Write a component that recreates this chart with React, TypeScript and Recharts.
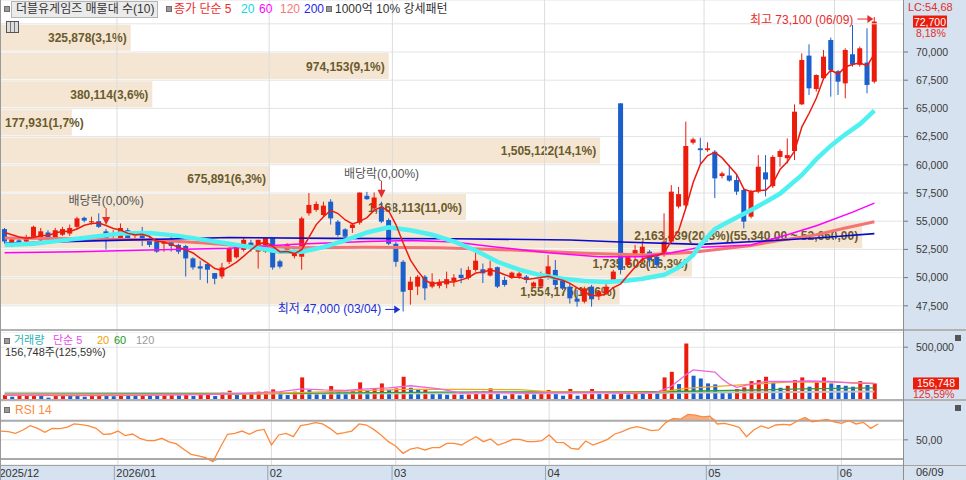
import React from "react";
import {
  ComposedChart,
  Bar,
  Line,
  Area,
  XAxis,
  YAxis,
  CartesianGrid,
  LabelList,
  ReferenceLine,
  ReferenceDot,
} from "recharts";

// trading days shown on the chart
const DATES = [
  "2025/12/08", "2025/12/09", "2025/12/10", "2025/12/11", "2025/12/12", "2025/12/15", "2025/12/16", "2025/12/17",
  "2025/12/18", "2025/12/19", "2025/12/22", "2025/12/23", "2025/12/24", "2025/12/26", "2025/12/29", "2025/12/30",
  "2026/01/02", "2026/01/05", "2026/01/06", "2026/01/07", "2026/01/08", "2026/01/09", "2026/01/12", "2026/01/13",
  "2026/01/14", "2026/01/15", "2026/01/16", "2026/01/19", "2026/01/20", "2026/01/21", "2026/01/22", "2026/01/23",
  "2026/01/26", "2026/01/27", "2026/01/28", "2026/01/29", "2026/01/30",
  "2026/02/02", "2026/02/03", "2026/02/04", "2026/02/05", "2026/02/06", "2026/02/09", "2026/02/10", "2026/02/11",
  "2026/02/12", "2026/02/13", "2026/02/19", "2026/02/20", "2026/02/23", "2026/02/24", "2026/02/25", "2026/02/26",
  "2026/02/27",
  "2026/03/03", "2026/03/04", "2026/03/05", "2026/03/06", "2026/03/09", "2026/03/10", "2026/03/11", "2026/03/12",
  "2026/03/13", "2026/03/16", "2026/03/17", "2026/03/18", "2026/03/19", "2026/03/20", "2026/03/23", "2026/03/24",
  "2026/03/25", "2026/03/26", "2026/03/27", "2026/03/30", "2026/03/31",
  "2026/04/01", "2026/04/02", "2026/04/03", "2026/04/06", "2026/04/07", "2026/04/08", "2026/04/09", "2026/04/10",
  "2026/04/13", "2026/04/14", "2026/04/15", "2026/04/16", "2026/04/17", "2026/04/20", "2026/04/21", "2026/04/22",
  "2026/04/23", "2026/04/24", "2026/04/27", "2026/04/28", "2026/04/29", "2026/04/30",
  "2026/05/04", "2026/05/06", "2026/05/07", "2026/05/08", "2026/05/11", "2026/05/12", "2026/05/13", "2026/05/14",
  "2026/05/15", "2026/05/18", "2026/05/19", "2026/05/20", "2026/05/21", "2026/05/22", "2026/05/26", "2026/05/27",
  "2026/05/28", "2026/05/29",
  "2026/06/01", "2026/06/02", "2026/06/04", "2026/06/05", "2026/06/08", "2026/06/09",
];

const OPEN = [
  54300, 52800, 53300, 53200, 53600, 53300, 54000, 53500, 53800, 53900,
  54500, 55300, 54900, 55000, 54100, 53800, 53400, 54200, 53700, 53800,
  53400, 53300, 53000, 53400, 52900, 52800, 51700, 51000, 51200, 50400,
  50100, 51400, 51800, 52450, 53100, 52300, 52300, 53500, 51450, 52300,
  51900, 51850, 55700, 56000, 55550, 56730, 54960, 54280, 54400, 54870,
  57250, 56130, 56280, 55100, 53000, 51400, 48900, 49200, 50080, 49200,
  49270, 49400, 49700, 50250, 49960, 50680, 50740, 50180, 50920, 49790,
  49960, 50090, 50090, 49200, 49200, 49970, 50680, 49850, 49200, 48120,
  47870, 49200, 48460, 48600, 49800, 65450, 51120, 51850, 52140, 52300,
  51850, 52000, 53190, 56300, 56400, 61960, 61460, 61300, 61160, 59000,
  59050, 58650, 57770, 55400, 57620, 59330, 58100, 60700, 60580, 61220,
  65360, 69680, 66720, 67670, 71060, 68300, 67220, 69800, 68860, 69060,
  67370,
];
const HIGH = [
  54400, 53500, 53500, 53800, 54600, 54400, 54200, 54400, 54500, 54700,
  55400, 55400, 55400, 55700, 54300, 54200, 54800, 54400, 54000, 54500,
  53700, 53500, 53400, 53600, 53000, 52900, 51800, 51500, 51200, 50400,
  51300, 52700, 52900, 53600, 53350, 53350, 53500, 53500, 51600, 53050,
  52500, 55400, 57500, 56750, 56730, 56950, 55100, 54370, 54850, 57540,
  57600, 57550, 56730, 55250, 53150, 51560, 50080, 50230, 50230, 50380,
  49860, 50530, 50300, 50830, 50980, 52400, 51250, 51500, 50980, 50090,
  50530, 50530, 50230, 49650, 50530, 52000, 51560, 49940, 49500, 48900,
  49200, 49350, 48900, 49500, 50680, 65450, 52000, 52890, 53190, 52440,
  52150, 55700, 58200, 58040, 63830, 62410, 62400, 62000, 61310, 59390,
  60000, 59090, 57920, 57770, 60860, 60860, 60860, 61370, 62340, 65360,
  69880, 70680, 68020, 70180, 71270, 68400, 70330, 72400, 70480, 72100,
  73100,
];
const LOW = [
  53000, 52700, 52900, 53000, 53400, 53100, 53100, 53300, 53700, 53700,
  54300, 54900, 54700, 54400, 52500, 53300, 53300, 53300, 53300, 52800,
  52700, 52200, 52300, 52300, 52100, 50100, 50700, 49800, 49500, 49400,
  49900, 51200, 51700, 52300, 52300, 50800, 52200, 50700, 50800, 52100,
  51700, 50700, 55500, 55850, 55400, 54700, 53630, 53480, 53960, 54700,
  56900, 55980, 54830, 52880, 50960, 47000, 47600, 48450, 48000, 49050,
  49050, 49050, 49200, 49500, 49810, 50530, 49520, 50090, 49070, 49200,
  49870, 49870, 49500, 49100, 49050, 49810, 49050, 48900, 47700, 47420,
  47720, 47420, 48010, 48460, 49640, 50300, 50970, 51560, 51260, 50970,
  50820, 51850, 53040, 56130, 56130, 61800, 60100, 61160, 57050, 58800,
  58500, 57330, 54370, 55250, 57480, 57200, 57950, 59830, 60120, 60420,
  65300, 66190, 66490, 67520, 66040, 66190, 65890, 68700, 68700, 66340,
  67220,
];
const CLOSE = [
  53200, 53400, 53100, 53600, 54500, 54100, 53400, 54200, 54300, 54400,
  55250, 55050, 55000, 54500, 53300, 53900, 54400, 53500, 53900, 53500,
  52900, 52300, 53200, 52800, 52300, 51700, 50900, 50800, 50700, 49900,
  50900, 52600, 52800, 53350, 52700, 53350, 53500, 50900, 50970, 52900,
  52400, 55250, 56440, 56530, 56380, 55250, 53780, 53630, 54700, 57540,
  56950, 57100, 54960, 53000, 51400, 48750, 49640, 50080, 49050, 49640,
  49560, 49860, 50000, 49960, 50680, 51500, 50380, 50830, 49200, 49350,
  50440, 50380, 49800, 49560, 49870, 51000, 49350, 49050, 48160, 47870,
  49050, 48080, 48760, 49200, 50530, 50680, 51850, 52440, 52740, 51560,
  51120, 53190, 57620, 57400, 61670, 62260, 61300, 61460, 58800, 59240,
  58600, 57620, 54960, 57620, 59830, 58700, 60700, 61220, 60860, 64710,
  69290, 66780, 67960, 69590, 68400, 67370, 70180, 68910, 70330, 67080,
  72700,
];
const MA5 = [
  54000, 53800, 53600, 53500, 53560, 53740, 53740, 53960, 54100, 54080,
  54310, 54640, 54800, 54840, 54620, 54350, 54220, 53920, 53800, 53840,
  53640, 53220, 53160, 52940, 52700, 52460, 52180, 51700, 51280, 50800,
  50640, 50980, 51380, 51910, 52470, 52960, 53140, 52760, 52280, 52320,
  52130, 52480, 53590, 54700, 55400, 55970, 55680, 55110, 54750, 54980,
  55320, 55980, 56250, 55910, 54680, 53040, 51550, 50570, 49780, 49430,
  49590, 49640, 49620, 49800, 50010, 50400, 50500, 50670, 50520, 50250,
  50040, 50040, 49830, 49910, 50010, 50120, 49920, 49770, 49490, 49090,
  48700, 48440, 48380, 48590, 49120, 49450, 50200, 50940, 51650, 51850,
  51940, 52210, 53250, 54180, 56200, 58430, 60050, 60820, 61100, 60610,
  59880, 59140, 57840, 57610, 57730, 57750, 58360, 59610, 60260, 61240,
  63360, 64570, 65920, 67670, 68400, 68020, 68700, 68890, 69040, 68770,
  69840,
];
// longer moving averages, read at selected days: [day index, value]
const MA20_PTS = [
  [0, 52900], [4, 53000], [8, 53300], [12, 53600], [16, 53900], [20, 53950], [24, 53700], [28, 53300],
  [31, 53000], [35, 52600], [38, 52300], [41, 52300], [44, 52700], [47, 53300], [50, 54000], [53, 54450],
  [56, 54200], [59, 53800], [62, 53200], [65, 52400], [68, 51400], [71, 50700], [74, 50200], [77, 49900],
  [80, 49700], [83, 49600], [86, 49750], [88, 49900], [91, 50250], [93, 50900], [95, 52000], [96, 52900],
  [98, 54300], [100, 55000], [103, 56000], [105, 56700], [107, 57450], [110, 59100], [112, 60500],
  [114, 61700], [116, 62700], [118, 63600], [120, 64800],
];
const MA60_PTS = [
  [0, 52200], [10, 52300], [20, 52450], [31, 52600], [40, 52950], [50, 53200], [56, 53300], [62, 53150],
  [68, 52700], [75, 52200], [82, 51850], [88, 51850], [92, 52200], [96, 52700], [103, 52900], [108, 53800],
  [112, 54600], [117, 55800], [120, 56600],
];
const MA120_PTS = [
  [0, 53500], [10, 53450], [20, 53350], [27, 53100], [33, 52800], [41, 52650], [50, 52700], [60, 52650],
  [70, 52450], [80, 52150], [88, 52000], [95, 52250], [103, 52850], [107, 53300], [112, 53800], [116, 54400],
  [120, 54950],
];
const MA200_PTS = [
  [0, 53040], [15, 53300], [31, 53550], [45, 53480], [62, 53450], [78, 53330], [85, 53150], [96, 52950],
  [105, 53250], [113, 53550], [120, 53900],
];

const VOLUME = [
  47000, 31000, 38000, 50000, 53000, 38000, 22000, 47000, 53000, 50000,
  38000, 31000, 38000, 40000, 38000, 36000, 44000, 42000, 40000, 44000,
  42000, 40000, 44000, 46000, 44000, 63000, 38000, 53000, 63000, 38000,
  72000, 88000, 47000, 53000, 72000, 79000, 80000, 100000, 72000, 47000,
  79000, 214000, 94000, 55000, 53000, 132000, 94000, 72000, 85000, 167000,
  85000, 104000, 157000, 94000, 110000, 220000, 116000, 100000, 104000, 63000,
  60000, 50000, 53000, 50000, 53000, 79000, 80000, 110000, 63000, 41000,
  57000, 44000, 72000, 53000, 63000, 94000, 63000, 41000, 104000, 41000,
  72000, 104000, 63000, 72000, 53000, 63000, 53000, 63000, 60000, 72000,
  70000, 214000, 267000, 151000, 535000, 230000, 204000, 157000, 148000, 72000,
  70000, 104000, 120000, 179000, 189000, 220000, 164000, 116000, 135000, 189000,
  214000, 126000, 167000, 214000, 157000, 142000, 135000, 126000, 179000, 142000,
  156748,
];
const VOL_MA5_PTS = [
  [0, 45000], [10, 42000], [20, 43000], [28, 50000], [33, 62000], [38, 80000], [41, 105000], [44, 95000],
  [47, 90000], [50, 105000], [53, 115000], [56, 135000], [60, 105000], [63, 65000], [67, 75000], [72, 65000],
  [77, 70000], [82, 75000], [87, 60000], [90, 75000], [92, 130000], [94, 240000], [95, 285000], [98, 265000],
  [99, 200000], [100, 150000], [101, 120000], [103, 150000], [105, 175000], [108, 175000], [111, 180000],
  [114, 175000], [117, 160000], [120, 155000],
];
const VOL_MA20_PTS = [
  [0, 52000], [20, 50000], [35, 58000], [45, 80000], [55, 100000], [62, 100000], [71, 98000], [75, 80000],
  [90, 72000], [94, 110000], [101, 140000], [108, 170000], [113, 172000], [120, 160000],
];
const VOL_MA60_PTS = [[0, 55000], [30, 57000], [60, 75000], [90, 78000], [100, 90000], [110, 105000], [120, 115000]];
const VOL_MA120_PTS = [[0, 68000], [40, 62000], [80, 65000], [120, 80000]];

const RSI = [
  59.2, 58.5, 56.8, 60.3, 64.8, 62.0, 57.8, 62.0, 61.7, 63.1,
  66.6, 65.9, 64.5, 62.0, 55.8, 56.1, 59.2, 54.4, 56.1, 51.6,
  49.1, 49.1, 51.6, 47.8, 45.7, 40.2, 34.9, 33.2, 31.4, 27.2,
  42.0, 55.8, 56.8, 59.2, 55.8, 59.6, 60.9, 44.6, 55.1, 56.8,
  53.3, 64.8, 66.2, 67.9, 66.6, 62.0, 56.1, 57.5, 59.2, 66.6,
  65.5, 60.9, 55.1, 48.1, 43.6, 35.9, 40.2, 41.8, 39.4, 41.8,
  41.8, 46.3, 46.3, 44.6, 49.1, 53.3, 48.1, 50.9, 44.6, 47.0,
  50.5, 50.5, 48.1, 48.1, 49.1, 55.1, 47.4, 47.0, 41.1, 40.2,
  48.8, 44.6, 47.4, 50.5, 56.1, 58.5, 62.0, 63.8, 62.0, 59.6,
  60.3, 68.3, 72.4, 71.7, 76.6, 75.9, 74.1, 74.8, 66.6, 67.2,
  65.5, 63.1, 53.3, 60.3, 64.5, 62.0, 65.5, 66.2, 65.5, 70.0,
  73.4, 68.9, 70.0, 71.4, 68.9, 67.2, 70.0, 66.6, 68.3, 62.0,
  66.6,
];

// volume profile (매물대), 10 price bands
const VP_LOW = [47500, 50000, 52500, 55000, 57500, 60000, 62500, 65000, 67500, 70000];
const VP_HIGH = [50000, 52500, 55000, 57500, 60000, 62500, 65000, 67500, 70000, 72500];
const VP_VOLUME = [1554175, 1735608, 2163439, 1168113, 675891, 1505122, 177931, 380114, 974153, 325878];
const VP_PCT = ["14,6", "16,3", "20,3", "11,0", "6,3", "14,1", "1,7", "3,6", "9,1", "3,1"];
const VP_TOP_RANGE = "(55,340,00 ~ 52,660,00)";

const MONTH_STARTS = ["2025/12/08", "2026/01/02", "2026/02/02", "2026/03/03", "2026/04/01", "2026/05/04", "2026/06/01"];
const MONTH_LABELS = ["2025/12", "2026/01", "02", "03", "04", "05", "06"];
const EX_DIV_DATES = ["2025/12/29", "2026/02/26"];
const PRICE_TICKS = [47500, 50000, 52500, 55000, 57500, 60000, 62500, 65000, 67500, 70000];

const FONT = "'Liberation Sans', 'Noto Sans CJK KR', sans-serif";
const RED = "#ec1c0c";
const BLUE = "#1b5fcc";
const AXIS_BG = "#d6e2f0";
const W = 966;
const AXIS_W = 63;
const X_PAD = { left: 0, right: 25 };
const MARGIN = { top: 0, right: 0, bottom: 0, left: 1 };
const PRICE_DOMAIN = [45266, 74610];

const fmt = (n: number) => n.toLocaleString("en-US");
const toMap = (pts: number[][]) => new Map(pts.map(([i, v]) => [i, v]));

const m20 = toMap(MA20_PTS);
const m60 = toMap(MA60_PTS);
const m120 = toMap(MA120_PTS);
const m200 = toMap(MA200_PTS);
const v5 = toMap(VOL_MA5_PTS);
const v20 = toMap(VOL_MA20_PTS);
const v60 = toMap(VOL_MA60_PTS);
const v120 = toMap(VOL_MA120_PTS);

const rows = DATES.map((date, i) => ({
  date,
  open: OPEN[i],
  high: HIGH[i],
  low: LOW[i],
  close: CLOSE[i],
  ma5: MA5[i],
  ma20: m20.get(i) ?? null,
  ma60: m60.get(i) ?? null,
  ma120: m120.get(i) ?? null,
  ma200: m200.get(i) ?? null,
  vol: VOLUME[i],
  vma5: v5.get(i) ?? null,
  vma20: v20.get(i) ?? null,
  vma60: v60.get(i) ?? null,
  vma120: v120.get(i) ?? null,
  rsi: RSI[i],
}));

const vpMaxVol = Math.max(...VP_VOLUME);
const vpRows = VP_VOLUME.map((v, k) => ({
  mid: (VP_LOW[k] + VP_HIGH[k]) / 2,
  volume: v,
  text: `${fmt(v)}(${VP_PCT[k]}%)` + (v === vpMaxVol ? VP_TOP_RANGE : ""),
}));

const last = DATES.length - 1;
const hiIdx = HIGH.indexOf(Math.max(...HIGH));
const loIdx = LOW.indexOf(Math.min(...LOW));

const Candle = (props: any) => {
  const { x, y, width, height, payload } = props;
  if (!payload || height == null) return <g />;
  const { open, close, high, low } = payload;
  const color = close >= open ? RED : BLUE;
  const span = high - low || 1;
  const py = (v: number) => y + ((high - v) / span) * height;
  const top = py(Math.max(open, close));
  const bot = py(Math.min(open, close));
  const cx = x + width / 2;
  return (
    <g>
      <line x1={cx} x2={cx} y1={y} y2={y + height} stroke={color} strokeWidth={1} />
      <rect x={x} y={top} width={width} height={Math.max(1, bot - top)} fill={color} />
    </g>
  );
};

const VolBar = (props: any) => {
  const { x, y, width, height, index } = props;
  if (height == null || height <= 0) return <g />;
  const up = index === 0 || VOLUME[index] > VOLUME[index - 1];
  return <rect x={x} y={y} width={width} height={height} fill={up ? RED : BLUE} />;
};

const VpLabel = (props: any) => {
  const { x, y, width, height, value } = props;
  const textW = String(value).length * 6.4;
  const fits = width - 8 >= textW;
  return (
    <text
      x={fits ? x + width - 4 : x + 4}
      y={y + height / 2 + 4.5}
      textAnchor={fits ? "end" : "start"}
      fill="#6b5a2c"
      fontSize={12}
      fontWeight={700}
      fontFamily={FONT}
    >
      {value}
    </text>
  );
};

const MonthTick = (props: any) => {
  const { x, y, payload } = props;
  const k = MONTH_STARTS.indexOf(payload.value);
  if (k < 0) return <g />;
  const bx = x - (payload.offset || 3.6);
  return (
    <g>
      {k > 0 && <line x1={bx} x2={bx} y1={y} y2={y + 15} stroke="#98a4b4" />}
      <text x={bx + 2} y={y + 12} fontSize={11} fill="#333" fontFamily={FONT}>
        {MONTH_LABELS[k]}
      </text>
    </g>
  );
};

const HighMark = (p: any) => {
  const { cx, cy } = p;
  const text = `최고 ${fmt(HIGH[hiIdx])} (${DATES[hiIdx].slice(5)})`;
  return (
    <g>
      <text x={cx - 21} y={cy + 7} textAnchor="end" fill="#e42d2d" fontSize={12} fontFamily={FONT}>
        {text}
      </text>
      <line x1={cx - 17} x2={cx - 6} y1={cy + 2} y2={cy + 2} stroke="#e42d2d" />
      <polygon points={`${cx - 1},${cy + 2} ${cx - 7},${cy - 2} ${cx - 7},${cy + 6}`} fill="#e42d2d" />
    </g>
  );
};

const LowMark = (p: any) => {
  const { cx, cy } = p;
  const text = `최저 ${fmt(LOW[loIdx])} (${DATES[loIdx].slice(5)})`;
  return (
    <g>
      <text x={cx - 22} y={cy + 2} textAnchor="end" fill="#1c2ed0" fontSize={12} fontFamily={FONT}>
        {text}
      </text>
      <line x1={cx - 18} x2={cx - 8} y1={cy - 2} y2={cy - 2} stroke="#1c2ed0" />
      <polygon points={`${cx - 3},${cy - 2} ${cx - 9},${cy - 6} ${cx - 9},${cy + 2}`} fill="#1c2ed0" />
    </g>
  );
};

const ExDivMark = (p: any) => {
  const { cx, cy } = p;
  return (
    <g>
      <text x={cx} y={cy - 24} textAnchor="middle" fill="#555" fontSize={12} fontFamily={FONT}>
        배당락(0,00%)
      </text>
      <line x1={cx} x2={cx} y1={cy - 21} y2={cy - 11} stroke="#e42d2d" />
      <polygon points={`${cx - 4},${cy - 12} ${cx + 4},${cy - 12} ${cx},${cy - 4}`} fill="#e42d2d" />
    </g>
  );
};

const tag = (text: string, w: number) => (props: any) => {
  const vb = props.viewBox || {};
  const x0 = vb.x + vb.width + 10;
  return (
    <g>
      <rect x={x0} y={vb.y - 6} width={w} height={12} fill={RED} />
      <text x={x0 + w / 2} y={vb.y + 4} textAnchor="middle" fill="#fff" fontSize={10.5} fontFamily={FONT}>
        {text}
      </text>
    </g>
  );
};

const monthLines = () =>
  MONTH_STARTS.slice(1).map((d) => (
    <ReferenceLine key={d} x={d} position="start" stroke="#dcdcdc" ifOverflow="visible" />
  ));

const axisTick = { fontSize: 10.5, fill: "#3a3a3a", fontFamily: FONT };

const abs = (left: number, top: number, extra: any = {}) => ({
  position: "absolute" as const,
  left,
  top,
  whiteSpace: "nowrap" as const,
  fontFamily: FONT,
  ...extra,
});

const Bullet = ({ left, top }: { left: number; top: number }) => (
  <div style={abs(left, top, { width: 4, height: 4, background: "#9a9a9a", border: "1px solid #6e6e6e" })} />
);

export default function App() {
  const vpAxisMax = 2266000;
  return (
    <div style={{ position: "absolute", left: 0, top: 0, width: W, height: 480, background: "#fff", overflow: "hidden" }}>
      {/* backgrounds */}
      <div style={abs(903, 0, { width: AXIS_W, height: 480, background: AXIS_BG })} />
      <div style={abs(0, 465, { width: W, height: 15, background: AXIS_BG })} />

      {/* volume profile bands, under the price panel */}
      <div style={abs(0, 0)}>
        <ComposedChart
          layout="vertical"
          width={W}
          height={331}
          data={vpRows}
          margin={{ top: 0, right: AXIS_W, bottom: 0, left: 1 }}
        >
          <XAxis type="number" domain={[0, vpAxisMax]} hide allowDataOverflow />
          <YAxis type="number" dataKey="mid" domain={PRICE_DOMAIN} hide allowDataOverflow reversed />
          <Bar dataKey="volume" barSize={26} fill="#f4e6d3" isAnimationActive={false}>
            <LabelList dataKey="text" content={VpLabel} />
          </Bar>
        </ComposedChart>
      </div>

      {/* price panel */}
      <div style={abs(0, 0)}>
        <ComposedChart width={W} height={331} data={rows} margin={MARGIN}>
          <CartesianGrid vertical={false} stroke="#e4e4e4" />
          <XAxis dataKey="date" hide padding={X_PAD} />
          <YAxis
            orientation="right"
            width={AXIS_W}
            domain={PRICE_DOMAIN}
            allowDataOverflow
            ticks={PRICE_TICKS}
            tickFormatter={fmt}
            tick={axisTick}
            tickSize={5}
            tickMargin={8}
            axisLine={false}
            tickLine={{ stroke: "#777" }}
          />
          <ReferenceLine y={72500} stroke="#e4e4e4" />
          {monthLines()}
          <Bar dataKey={(d: any) => [d.low, d.high]} shape={Candle} barSize={5} isAnimationActive={false} />
          <Line dataKey="ma120" stroke="#f47474" strokeWidth={3} dot={false} connectNulls isAnimationActive={false} />
          <Line dataKey="ma60" stroke="#ff00ff" strokeWidth={1.5} dot={false} connectNulls isAnimationActive={false} />
          <Line dataKey="ma200" stroke="#0a0acc" strokeWidth={1.6} dot={false} connectNulls isAnimationActive={false} />
          <Line dataKey="ma20" stroke="#4ff0f0" strokeWidth={4.5} dot={false} connectNulls isAnimationActive={false} />
          <Line dataKey="ma5" stroke="#ee1a10" strokeWidth={1.5} dot={false} isAnimationActive={false} />
          {EX_DIV_DATES.map((d) => (
            <ReferenceDot key={d} x={d} y={HIGH[DATES.indexOf(d)]} r={2} shape={ExDivMark} />
          ))}
          <ReferenceDot x={DATES[hiIdx]} y={HIGH[hiIdx]} r={2} shape={HighMark} />
          <ReferenceDot x={DATES[loIdx]} y={LOW[loIdx]} r={2} shape={LowMark} />
          <ReferenceLine y={CLOSE[last]} stroke="none" label={tag(fmt(CLOSE[last]), 34)} />
        </ComposedChart>
      </div>

      {/* volume panel */}
      <div style={abs(0, 332)}>
        <ComposedChart width={W} height={68} data={rows} margin={MARGIN}>
          <CartesianGrid vertical={false} stroke="#e4e4e4" />
          <XAxis dataKey="date" hide padding={X_PAD} />
          <YAxis
            orientation="right"
            width={AXIS_W}
            domain={[0, 644000]}
            allowDataOverflow
            ticks={[500000]}
            tickFormatter={fmt}
            tick={axisTick}
            tickSize={5}
            tickMargin={8}
            axisLine={false}
            tickLine={{ stroke: "#777" }}
          />
          {monthLines()}
          <Bar dataKey="vol" shape={VolBar} barSize={4} isAnimationActive={false} />
          <Line dataKey="vma120" stroke="#c4c4c4" strokeWidth={2} dot={false} connectNulls isAnimationActive={false} />
          <Line dataKey="vma60" stroke="#2e9e3a" strokeWidth={1.3} dot={false} connectNulls isAnimationActive={false} />
          <Line dataKey="vma20" stroke="#f2a81e" strokeWidth={1.3} dot={false} connectNulls isAnimationActive={false} />
          <Line dataKey="vma5" stroke="#ee66dd" strokeWidth={1.3} dot={false} connectNulls isAnimationActive={false} />
          <ReferenceLine y={VOLUME[last]} stroke="none" label={tag(fmt(VOLUME[last]), 46)} />
        </ComposedChart>
      </div>

      {/* RSI panel + date axis */}
      <div style={abs(0, 401)}>
        <ComposedChart width={W} height={79} data={rows} margin={MARGIN}>
          <CartesianGrid vertical={false} stroke="#e4e4e4" />
          <XAxis
            dataKey="date"
            padding={X_PAD}
            height={15}
            interval={0}
            tickLine={false}
            axisLine={false}
            tickSize={0}
            tickMargin={0}
            tick={MonthTick}
          />
          <YAxis
            orientation="right"
            width={AXIS_W}
            domain={[23.7, 90.6]}
            allowDataOverflow
            ticks={[50]}
            tickFormatter={(v: number) => v.toFixed(2).replace(".", ",")}
            tick={axisTick}
            tickSize={5}
            tickMargin={8}
            axisLine={false}
            tickLine={{ stroke: "#777" }}
          />
          {monthLines()}
          <ReferenceLine y={70} stroke="#a9a9a9" strokeWidth={2} />
          <ReferenceLine y={30} stroke="#a9a9a9" strokeWidth={2} />
          <Area
            dataKey={(d: any) => [70, Math.max(70, d.rsi)]}
            fill="#f4a06a"
            fillOpacity={0.85}
            stroke="none"
            isAnimationActive={false}
          />
          <Area
            dataKey={(d: any) => [Math.min(30, d.rsi), 30]}
            fill="#8aa6c0"
            fillOpacity={0.85}
            stroke="none"
            isAnimationActive={false}
          />
          <Line dataKey="rsi" stroke="#ff8a3c" strokeWidth={1.3} dot={false} isAnimationActive={false} />
        </ComposedChart>
      </div>

      {/* panel borders */}
      <div style={abs(0, 329, { width: W, height: 2, background: "#b2b2b2" })} />
      <div style={abs(0, 399, { width: W, height: 2, background: "#b2b2b2" })} />
      <div style={abs(0, 465, { width: W, height: 1, background: "#a4a4a4" })} />
      <div style={abs(903, 0, { width: 1, height: 480, background: "#8e8e8e" })} />
      <div style={abs(0, 0, { width: 1, height: 480, background: "#9a9a9a" })} />

      {/* price header */}
      <Bullet left={4} top={6} />
      <div
        style={abs(11, 1, {
          height: 15,
          lineHeight: "15px",
          padding: "0 3px 0 4px",
          background: "#ebebeb",
          border: "1px solid #b5b5b5",
          fontSize: 12,
          color: "#333",
        })}
      >
        더블유게임즈 매물대 수(10)
      </div>
      <Bullet left={166} top={6} />
      <div style={abs(174, 2, { fontSize: 12, lineHeight: "15px", color: "#ef2b2b" })}>종가 단순 5</div>
      <div style={abs(241, 2, { fontSize: 12, lineHeight: "15px", color: "#12d6e6" })}>20</div>
      <div style={abs(259, 2, { fontSize: 12, lineHeight: "15px", color: "#ff00ff" })}>60</div>
      <div style={abs(280, 2, { fontSize: 12, lineHeight: "15px", color: "#f87878" })}>120</div>
      <div style={abs(304, 2, { fontSize: 12, lineHeight: "15px", color: "#2626e6" })}>200</div>
      <Bullet left={326} top={6} />
      <div style={abs(335, 2, { fontSize: 12, lineHeight: "15px", color: "#333" })}>1000억 10% 강세패턴</div>
      <div
        style={abs(6, 21, {
          width: 11,
          height: 10,
          border: "1px solid #555",
          background: "repeating-linear-gradient(90deg, #ddd 0 3px, #777 3px 4px)",
        })}
      />

      {/* volume header */}
      <Bullet left={4} top={338} />
      <div style={abs(14, 334, { fontSize: 11, lineHeight: "13px", color: "#2bb3b3" })}>거래량</div>
      <div style={abs(53, 334, { fontSize: 11, lineHeight: "13px", color: "#e84ce8" })}>단순 5</div>
      <div style={abs(97, 334, { fontSize: 11, lineHeight: "13px", color: "#f5a000" })}>20</div>
      <div style={abs(114, 334, { fontSize: 11, lineHeight: "13px", color: "#1a9a1a" })}>60</div>
      <div style={abs(136, 334, { fontSize: 11, lineHeight: "13px", color: "#9a9a9a" })}>120</div>
      <div style={abs(5, 346, { fontSize: 11, lineHeight: "13px", color: "#333" })}>156,748주(125,59%)</div>

      {/* RSI header */}
      <Bullet left={4} top={407} />
      <div style={abs(15, 403, { fontSize: 12, lineHeight: "14px", color: "#ff8a3c" })}>RSI 14</div>

      {/* right column texts */}
      <div style={abs(908, 1, { fontSize: 11, lineHeight: "13px", color: "#e0302a" })}>LC:54,68</div>
      <div style={abs(916, 27, { fontSize: 10.5, lineHeight: "12px", color: "#e0302a" })}>8,18%</div>
      <div style={abs(913, 388, { fontSize: 10.5, lineHeight: "12px", color: "#e0302a" })}>125,59%</div>
      <div style={abs(916, 466, { fontSize: 11, lineHeight: "13px", color: "#333" })}>06/09</div>
      <div style={abs(955, 335, { width: 6, height: 6, background: "#555" })} />
      <div style={abs(955, 405, { width: 6, height: 6, background: "#555" })} />
    </div>
  );
}
